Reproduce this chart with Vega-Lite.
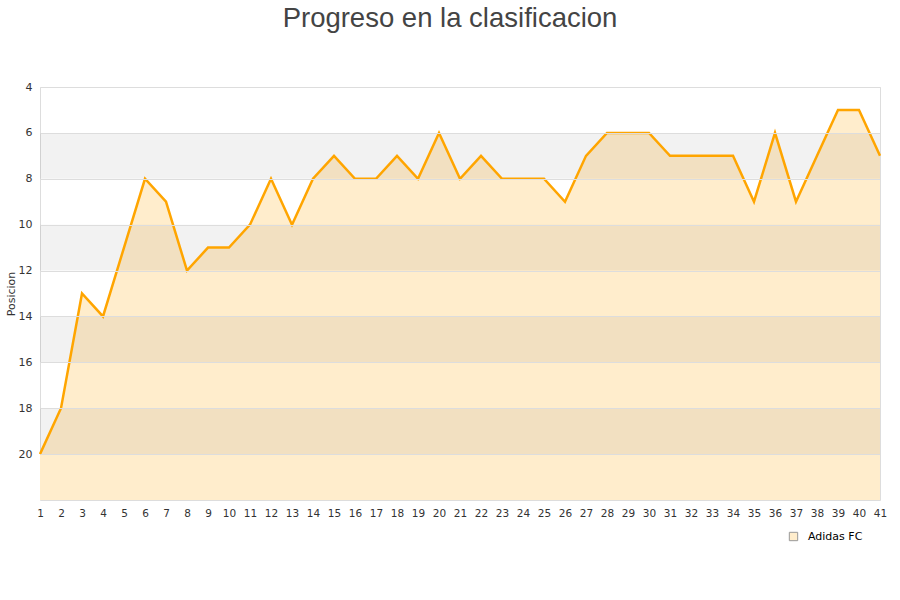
{
  "$schema": "https://vega.github.io/schema/vega-lite/v6.json",
  "autosize": {"type": "none"},
  "width": 840,
  "height": 413,
  "padding": {"left": 40, "top": 87, "right": 20, "bottom": 100},
  "background": "white",
  "config": {"view": {"stroke": "#DDDDDD"}, "axis": {"labelOverlap": false}},
  "title": {"text": "Progreso en la clasificacion", "font": "Liberation Sans", "fontSize": 27.5, "fontWeight": "normal", "color": "#444444", "anchor": "middle", "offset": 49, "dx": -10},
  "datasets": {
    "bands": [
      {"y1": 6, "y2": 8},
      {"y1": 10, "y2": 12},
      {"y1": 14, "y2": 16},
      {"y1": 18, "y2": 20}
    ],
    "pos": [
      {"jornada": 1, "posicion": 20, "equipo": "Adidas FC"},
      {"jornada": 2, "posicion": 18, "equipo": "Adidas FC"},
      {"jornada": 3, "posicion": 13, "equipo": "Adidas FC"},
      {"jornada": 4, "posicion": 14, "equipo": "Adidas FC"},
      {"jornada": 5, "posicion": 11, "equipo": "Adidas FC"},
      {"jornada": 6, "posicion": 8, "equipo": "Adidas FC"},
      {"jornada": 7, "posicion": 9, "equipo": "Adidas FC"},
      {"jornada": 8, "posicion": 12, "equipo": "Adidas FC"},
      {"jornada": 9, "posicion": 11, "equipo": "Adidas FC"},
      {"jornada": 10, "posicion": 11, "equipo": "Adidas FC"},
      {"jornada": 11, "posicion": 10, "equipo": "Adidas FC"},
      {"jornada": 12, "posicion": 8, "equipo": "Adidas FC"},
      {"jornada": 13, "posicion": 10, "equipo": "Adidas FC"},
      {"jornada": 14, "posicion": 8, "equipo": "Adidas FC"},
      {"jornada": 15, "posicion": 7, "equipo": "Adidas FC"},
      {"jornada": 16, "posicion": 8, "equipo": "Adidas FC"},
      {"jornada": 17, "posicion": 8, "equipo": "Adidas FC"},
      {"jornada": 18, "posicion": 7, "equipo": "Adidas FC"},
      {"jornada": 19, "posicion": 8, "equipo": "Adidas FC"},
      {"jornada": 20, "posicion": 6, "equipo": "Adidas FC"},
      {"jornada": 21, "posicion": 8, "equipo": "Adidas FC"},
      {"jornada": 22, "posicion": 7, "equipo": "Adidas FC"},
      {"jornada": 23, "posicion": 8, "equipo": "Adidas FC"},
      {"jornada": 24, "posicion": 8, "equipo": "Adidas FC"},
      {"jornada": 25, "posicion": 8, "equipo": "Adidas FC"},
      {"jornada": 26, "posicion": 9, "equipo": "Adidas FC"},
      {"jornada": 27, "posicion": 7, "equipo": "Adidas FC"},
      {"jornada": 28, "posicion": 6, "equipo": "Adidas FC"},
      {"jornada": 29, "posicion": 6, "equipo": "Adidas FC"},
      {"jornada": 30, "posicion": 6, "equipo": "Adidas FC"},
      {"jornada": 31, "posicion": 7, "equipo": "Adidas FC"},
      {"jornada": 32, "posicion": 7, "equipo": "Adidas FC"},
      {"jornada": 33, "posicion": 7, "equipo": "Adidas FC"},
      {"jornada": 34, "posicion": 7, "equipo": "Adidas FC"},
      {"jornada": 35, "posicion": 9, "equipo": "Adidas FC"},
      {"jornada": 36, "posicion": 6, "equipo": "Adidas FC"},
      {"jornada": 37, "posicion": 9, "equipo": "Adidas FC"},
      {"jornada": 38, "posicion": 7, "equipo": "Adidas FC"},
      {"jornada": 39, "posicion": 5, "equipo": "Adidas FC"},
      {"jornada": 40, "posicion": 5, "equipo": "Adidas FC"},
      {"jornada": 41, "posicion": 7, "equipo": "Adidas FC"}
    ]
  },
  "layer": [
    {
      "data": {"name": "pos"},
      "mark": {"type": "area", "opacity": 1},
      "encoding": {
        "x": {"field": "jornada", "type": "quantitative", "scale": {"domain": [1, 41], "nice": false},
              "axis": {"values": [1,2,3,4,5,6,7,8,9,10,11,12,13,14,15,16,17,18,19,20,21,22,23,24,25,26,27,28,29,30,31,32,33,34,35,36,37,38,39,40,41], "title": null, "grid": false, "domain": false, "ticks": false, "labelFont": "DejaVu Sans", "labelFontSize": 10.5, "labelColor": "#333333", "labelPadding": 8, "labelFlush": false, "labelOverlap": false, "labelSeparation": -6}},
        "y": {"field": "posicion", "type": "quantitative", "scale": {"domain": [4, 22], "reverse": true, "nice": false, "zero": false},
              "axis": {"values": [4,6,8,10,12,14,16,18,20], "title": "Posicion", "titleFont": "DejaVu Sans", "titleFontSize": 11, "titleFontWeight": "normal", "titleColor": "#333333", "titlePadding": 2, "grid": true, "gridColor": "#DDDDDD", "gridWidth": 1, "domain": false, "ticks": false, "labelFont": "DejaVu Sans", "labelFontSize": 11, "labelColor": "#333333", "labelPadding": 8, "zindex": 1}},
        "y2": {"datum": 22},
        "color": {"field": "equipo", "type": "nominal", "scale": {"range": ["#FFEDCC"]},
                  "legend": {"title": null, "orient": "none", "legendX": 748, "legendY": 444, "symbolType": "square", "symbolSize": 70, "symbolStrokeColor": "#999999", "symbolStrokeWidth": 1, "labelOffset": 9, "labelFont": "DejaVu Sans", "labelFontSize": 11, "labelColor": "#000000"}}
      }
    },
    {
      "data": {"name": "bands"},
      "mark": {"type": "rect", "color": "#000000", "opacity": 0.05},
      "encoding": {
        "y": {"field": "y1", "type": "quantitative"},
        "y2": {"field": "y2"}
      }
    },
    {
      "data": {"name": "pos"},
      "mark": {"type": "line", "color": "#FFA500", "strokeWidth": 2.5},
      "encoding": {
        "x": {"field": "jornada", "type": "quantitative", "axis": {"values": [1,2,3,4,5,6,7,8,9,10,11,12,13,14,15,16,17,18,19,20,21,22,23,24,25,26,27,28,29,30,31,32,33,34,35,36,37,38,39,40,41], "title": null, "grid": false, "domain": false, "ticks": false, "labelFont": "DejaVu Sans", "labelFontSize": 10.5, "labelColor": "#333333", "labelPadding": 8, "labelFlush": false, "labelOverlap": false, "labelSeparation": -6}},
        "y": {"field": "posicion", "type": "quantitative"}
      }
    }
  ]
}
